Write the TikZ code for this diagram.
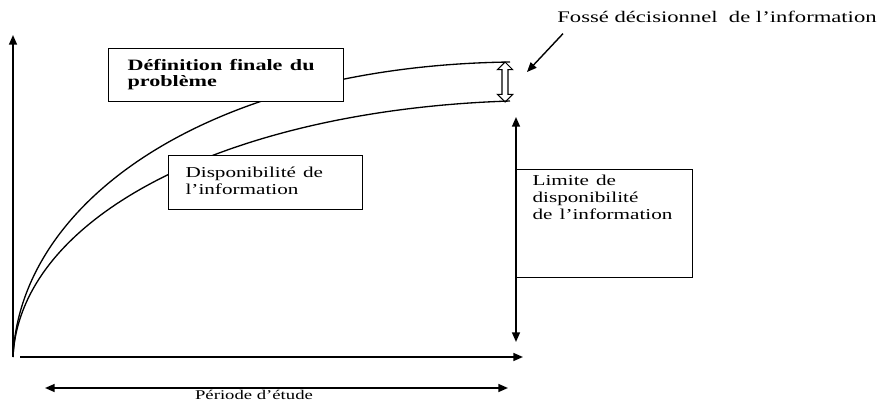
\documentclass[tikz,border=0pt]{standalone}
\usepackage{fontspec}
\setmainfont{Liberation Serif}
\usepackage{graphicx}
\usepackage{tikz}
\usetikzlibrary{arrows.meta,shapes.arrows}
\tikzset{>={Triangle[length=5.5pt,width=4.5pt]}}
\newcommand{\wtxt}[2][]{\scalebox{1.4}[1]{#1\begin{tabular}[b]{@{}l@{}}#2\end{tabular}}}
\tikzset{%
    infobox/.style={draw, line width=0.7pt, fill=white, anchor=north west,
        align=left, inner ysep=0pt},
    curve/.style={line width=0.75pt},
    axis/.style={line width=1pt}
}

\begin{document}
\begin{tikzpicture}[x=0.02cm,y=-0.02cm,font=\fontsize{8.6}{9.6}\selectfont]
    \useasboundingbox (0,0) rectangle (889,403);
    % axes
    \coordinate (O) at (13,357);
    \coordinate (ytop) at (13,35);
    \coordinate (xstart) at (20,357);
    \coordinate (xend) at (523,357);
    \draw[axis,->] (O) -- (ytop);
    \draw[axis,->] (xstart) -- (xend);
    % the two curves
    \coordinate (topend) at (510,62);
    \coordinate (lowend) at (510,101);
    \draw[curve] (O) .. controls (20,200) and (210,66) .. (topend);
    \draw[curve] (O) .. controls (20,215) and (230,110) .. (lowend);
    % boxes
    \node[infobox, font=\fontsize{9}{9.6}\selectfont\bfseries, text width=3.94cm,
        inner xsep=0.38cm, minimum height=1.06cm] (defin) at (108,48)
        {\wtxt{Définition finale du\\problème}};
    \node[infobox, text width=3.2cm, inner xsep=0.34cm, minimum height=1.08cm]
        (dispo) at (168,155) {\wtxt{Disponibilité de\\l’information}};
    \coordinate (l1) at (516,117);
    \coordinate (l2) at (516,342);
    \draw[axis,<->] (l1) -- (l2);
    \node[infobox, text width=2.88cm, inner xsep=0.32cm, inner ysep=0.08cm,
        text depth=1.08cm] (limite) at (516,169)
        {\wtxt{Limite de\\disponibilité\\de l’information}};
    % the gap
    \node[double arrow, draw, line width=0.6pt, rotate=90, inner sep=1.4pt,
        double arrow head extend=2.6pt, minimum height=0.8cm] (gap) at (505,82) {};
    \node[anchor=base west, inner sep=0pt, font=\fontsize{9.2}{10}\selectfont]
        (fosse) at (557,22) {\wtxt{Fossé décisionnel\ \ de l’information}};
    \coordinate (gaptip) at (527,72);
    \draw[->, line width=0.8pt] ([xshift=0.12cm,yshift=-0.12cm]fosse.south west) -- (gaptip);
    % period
    \coordinate (p1) at (45,388);
    \coordinate (p2) at (508,388);
    \draw[axis,<->] (p1) -- (p2);
    \node[anchor=base, inner sep=0pt, font=\fontsize{7.6}{9}\selectfont]
        (periode) at (254,399.5) {\wtxt{Période d’étude}};
\end{tikzpicture}
\end{document}
